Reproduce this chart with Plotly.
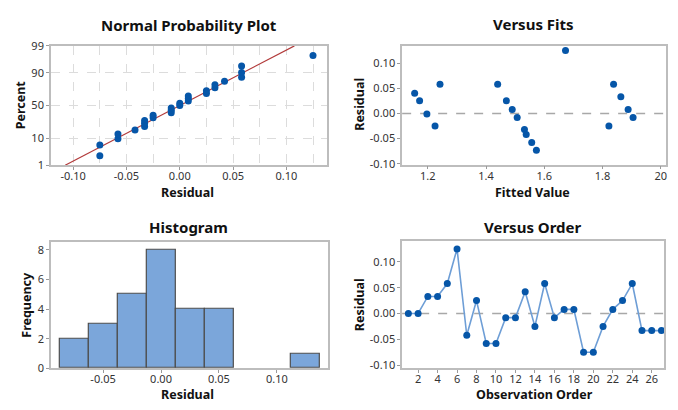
import numpy as np
import plotly.graph_objects as go
from statistics import NormalDist

# ---------------- data ----------------
residuals = [0.000, 0.000, 0.033, 0.033, 0.058, 0.125, -0.042, 0.025, -0.058, -0.058,
             -0.008, -0.008, 0.042, -0.025, 0.058, -0.008, 0.008, 0.008, -0.075, -0.075,
             -0.025, 0.008, 0.025, 0.058, -0.033, -0.033, -0.033]
order = list(range(1, len(residuals) + 1))

fits_x = [1.155, 1.172, 1.197, 1.225, 1.242, 1.440, 1.470, 1.490, 1.507, 1.532,
          1.538, 1.557, 1.573, 1.673, 1.822, 1.838, 1.863, 1.888, 1.905]
fits_res = [0.040, 0.025, -0.001, -0.025, 0.058, 0.058, 0.025, 0.008, -0.008, -0.032,
            -0.042, -0.058, -0.073, 0.125, -0.025, 0.058, 0.033, 0.008, -0.008]

pct_ticks = [1, 10, 50, 90, 99]
res_ticks = [-0.10, -0.05, 0.00, 0.05, 0.10]
res_ticktext = ["-0.10", "-0.05", "0.00", "0.05", "0.10"]
fit_ticks = [1.2, 1.4, 1.6, 1.8, 2.0]
fit_ticktext = ["1.2", "1.4", "1.6", "1.8", "20"]
hist_xticks = [-0.05, 0.00, 0.05, 0.10]
hist_xticktext = ["-0.05", "0.00", "0.05", "0.10"]
order_ticks = list(range(2, 27, 2))
freq_ticks = [0, 2, 4, 6, 8]

# ---------------- derived (normal probability plot) ----------------
nd = NormalDist()
n = len(residuals)
sorted_res = sorted(residuals)
plot_pos = [(i - 0.3) / (n + 0.4) for i in range(1, n + 1)]
z_pts = [nd.inv_cdf(p) for p in plot_pos]
mu = float(np.mean(residuals))
sd = float(np.std(residuals, ddof=1))
z_line = [nd.inv_cdf(0.01), nd.inv_cdf(0.99)]
x_line = [mu + z * sd for z in z_line]
z_ticks = [nd.inv_cdf(p / 100) for p in pct_ticks]

# ---------------- styles ----------------
FONT = "Noto Sans"
DOT = "#0656A8"
FRAME = "#BDBDBD"
GRID = "#DCDCDC"
TICKFONT = dict(family=FONT, size=11, color="#333333")

fig = go.Figure()

# Normal probability plot
fig.add_trace(go.Scatter(x=x_line, y=z_line, mode="lines",
                         line=dict(color="#B23A3A", width=1.2),
                         xaxis="x", yaxis="y", showlegend=False))
fig.add_trace(go.Scatter(x=sorted_res, y=z_pts, mode="markers",
                         marker=dict(color=DOT, size=7),
                         xaxis="x", yaxis="y", showlegend=False))

# Versus fits
fig.add_trace(go.Scatter(x=fits_x, y=fits_res, mode="markers",
                         marker=dict(color=DOT, size=7),
                         xaxis="x2", yaxis="y2", showlegend=False))

# Histogram
fig.add_trace(go.Histogram(x=residuals,
                           xbins=dict(start=-0.0875, end=0.1375, size=0.025),
                           marker=dict(color="#7BA6DA", line=dict(color="#4D4D4D", width=1.2)),
                           xaxis="x3", yaxis="y3", showlegend=False))

# Versus order
fig.add_trace(go.Scatter(x=order, y=residuals, mode="lines+markers",
                         line=dict(color="#6E9ED6", width=1.6),
                         marker=dict(color=DOT, size=7),
                         xaxis="x4", yaxis="y4", showlegend=False))

def axis(domain, rng, tickvals, ticktext=None, anchor=None, standoff=0, **kw):
    d = dict(domain=domain, range=rng, tickvals=tickvals, showline=True, mirror=True,
             linecolor=FRAME, linewidth=1.5, ticks="outside", ticklen=3, tickcolor="#9A9A9A",
             tickfont=TICKFONT, zeroline=False, showgrid=False, anchor=anchor,
             ticklabelstandoff=standoff)
    if ticktext is not None:
        d["ticktext"] = ticktext
    d.update(kw)
    return d

XS = -3
fig.update_layout(
    width=678, height=410, margin=dict(l=0, r=0, t=0, b=0),
    paper_bgcolor="white", plot_bgcolor="white", bargap=0,
    xaxis=axis([0.0752, 0.4828], [-0.1209, 0.138], res_ticks, res_ticktext, anchor="y",
               standoff=XS,
               showgrid=True, gridcolor=GRID, griddash="dash", gridwidth=1,
               minor=dict(dtick=0.025, tick0=0, showgrid=True, gridcolor=GRID,
                          griddash="dash", ticks="")),
    yaxis=axis([0.6017, 0.9041], [z_ticks[0], z_ticks[-1]], z_ticks,
               [str(p) for p in pct_ticks], anchor="x",
               showgrid=True, gridcolor=GRID, griddash="dash", gridwidth=1),
    xaxis2=axis([0.5940, 0.9833], [1.112, 2.017], fit_ticks, fit_ticktext, anchor="y2", standoff=XS),
    yaxis2=axis([0.6032, 0.9049], [-0.102, 0.135], res_ticks, res_ticktext, anchor="x2"),
    xaxis3=axis([0.0752, 0.4838], [-0.095, 0.1437], hist_xticks, hist_xticktext, anchor="y3", standoff=XS),
    yaxis3=axis([0.0878, 0.4080], [0, 8.54], freq_ticks, [str(v) for v in freq_ticks], anchor="x3"),
    xaxis4=axis([0.5940, 0.9808], [0.36, 27.26], order_ticks, [str(v) for v in order_ticks],
                anchor="y4", standoff=XS),
    yaxis4=axis([0.0878, 0.4098], [-0.106, 0.14], res_ticks, res_ticktext, anchor="x4"),
)

# zero reference lines
for xr, yr in [("x2", "y2"), ("x4", "y4")]:
    fig.add_shape(type="line", xref=f"{xr} domain", yref=yr, x0=0, x1=1, y0=0, y1=0,
                  line=dict(color="#A8A8A8", width=1.5, dash="dash"), layer="below")

def px_ann(text, x, y, size, angle=0):
    fig.add_annotation(text=f"<b>{text}</b>", x=x / 678, y=1 - y / 410, xref="paper", yref="paper",
                       showarrow=False, textangle=angle, xanchor="center", yanchor="middle",
                       font=dict(family=FONT, size=size, color="#111111"))

# titles
px_ann("Normal Probability Plot", 189, 17.5, 15)
px_ann("Versus Fits", 534, 16.5, 15)
px_ann("Histogram", 189, 227, 15)
px_ann("Versus Order", 534, 227.5, 15)

# axis titles
px_ann("Residual", 188, 192, 12.5)
px_ann("Percent", 20, 100, 12.5, -90)
px_ann("Fitted Value", 533, 192, 12.5)
px_ann("Residual", 360, 100, 12.5, -90)
px_ann("Residual", 188, 401, 12.5)
px_ann("Frequency", 27, 308, 12.5, -90)
px_ann("Observation Order", 535, 401, 12.5)
px_ann("Residual", 360, 308, 12.5, -90)

fig.write_html("out.html")
